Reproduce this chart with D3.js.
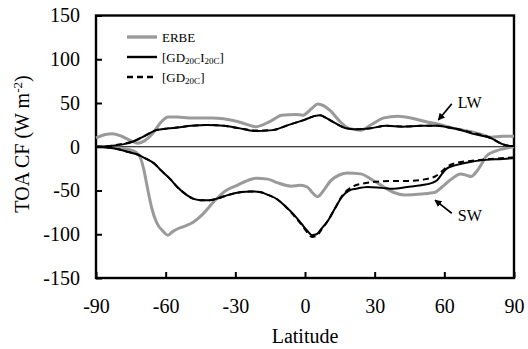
<!DOCTYPE html>
<html>
<head>
<meta charset="utf-8">
<script src="https://cdn.jsdelivr.net/npm/d3@7"></script>
<style>
  body { margin: 0; background: #fff; }
  svg { display: block; font-family: "Liberation Serif", "Times New Roman", serif; }
</style>
</head>
<body>
<svg id="chart" width="528" height="349"></svg>
<script>
// ---- data: [latitude, W m-2] ----
const erbeLW = [[-90,10],[-86,14],[-83,15],[-79,12],[-75,7],[-72,4],[-69,7],[-66,14],[-62,28],[-59,34],
  [-55,34],[-50,33],[-40,33],[-35,32],[-28,28],[-21,23],[-15,29],[-10,36],[-4,37],[-1,36],[3,44],[5.5,49],
  [8,47],[11,41],[15,29],[19,21],[24,19],[29,26],[34,33],[40,35],[47,32],[53,28],[57,26],[64,21],[68,19],
  [72,17],[76,14],[80,11],[85,12],[90,12]];
const gdCiLW = [[-90,0],[-84,1],[-78,3],[-74,6],[-70,11],[-64,19],[-59,21],[-55,22],[-49,24],[-42,25],
  [-35,24],[-28,21],[-21,18],[-14,19],[-7,25],[0,31],[4,35],[6.5,36],[9,33],[13,27],[18,21],[22,20],[28,21],
  [35,24],[42,23],[50,24],[57,24],[62,22],[66,20],[72,15],[80,10],[85,3],[88,1],[90,1]];
const gdLW = [[-90,0],[-84,1],[-78,3.5],[-74,6],[-70,11],[-64,19],[-59,21],[-55,22],[-49,24],[-42,25],
  [-35,24],[-28,21],[-21,18.5],[-14,19],[-7,25],[0,31],[4,35],[6.5,36],[9,33],[13,27],[18,21],[22,20],[28,21],
  [35,24],[42,23],[50,24],[57,24],[62,22],[66,20],[72,16],[80,10],[85,3],[88,1],[90,1]];

const erbeSW = [[-90,0],[-82,-1],[-76,-3],[-73,-6],[-71,-12],[-69.5,-25],[-68,-45],[-66,-70],[-64,-86],
  [-61,-97],[-59,-101],[-57,-97],[-55,-94],[-52,-91],[-48,-86],[-44,-77],[-39,-62],[-34,-50],[-30,-45],
  [-26,-40],[-21,-36],[-16,-37],[-12,-41],[-6,-45],[-2,-44],[1,-46],[3,-52],[5.5,-57],[8,-50],[11,-39],
  [15,-32],[18,-30],[24,-31],[29,-38],[34,-46],[38,-52],[43,-55],[50,-54],[56,-52],[59,-46],[63,-37],
  [67,-31],[70,-33],[71.5,-34],[74,-28],[76,-20],[78,-11],[82,-5],[86,-2],[90,0]];
const gdCiSW = [[-90,0],[-82,-2],[-76,-6],[-72,-9],[-69,-13],[-65,-19],[-62,-27],[-58,-37],[-55,-46],
  [-51,-55],[-48.5,-59],[-45,-61],[-41,-61],[-37.5,-59],[-33,-55],[-28,-52],[-23,-51],[-19,-52],[-16,-55],
  [-12,-60],[-8.5,-68],[-5,-77],[-1.5,-88],[1,-96],[3,-101],[5,-100],[7,-94],[10,-84],[13,-70],[16,-57],
  [19,-50],[22,-48],[27,-46],[33,-47],[38,-48],[44,-46],[50,-44],[55,-41],[57,-38],[59,-31],[61,-25],
  [65,-21],[70,-18],[78,-15],[85,-14],[90,-13]];
const gdSW = [[-90,0],[-82,-2],[-76,-6],[-72,-9],[-69,-13],[-65,-19],[-62,-27],[-58,-37],[-55,-46],
  [-51,-55],[-48.5,-59],[-45,-61],[-41,-61],[-37.5,-59],[-33,-55],[-28,-52],[-23,-51],[-19,-52],[-16,-55],
  [-12,-60],[-8.5,-68],[-5,-78],[-1.5,-89],[1,-98],[3,-103],[5,-102],[7,-95],[10,-84],[13,-70],[16,-56],
  [19,-48],[21,-45],[25,-42],[30,-40],[38,-39],[45,-39],[52,-37],[56,-34],[59,-28],[61,-23],[66,-18],
  [72,-16],[80,-14],[90,-12]];

const xTicks = [-90, -60, -30, 0, 30, 60, 90];
const yTicks = [150, 100, 50, 0, -50, -100, -150];

// ---- layout ----
const svg = d3.select("#chart");
const W = 528, H = 349;
const m = { top: 15.5, right: 14, bottom: 71, left: 96 };
const fw = W - m.left - m.right, fh = H - m.top - m.bottom;

const x = d3.scaleLinear().domain([-90, 90]).range([0, fw]);
const y = d3.scaleLinear().domain([-150, 150]).range([fh, 0]);

const fig = svg.append("g").attr("transform", `translate(${m.left},${m.top})`);

// zero line
fig.append("line")
  .attr("x1", 0).attr("x2", fw).attr("y1", y(0)).attr("y2", y(0))
  .attr("stroke", "#000").attr("stroke-width", 1);

// axes, ticks pointing inward; plain hyphen for negatives like the original
const fmt = d => String(d);
const yAxis = fig.append("g")
  .call(d3.axisLeft(y).tickValues(yTicks).tickSize(-6).tickPadding(16).tickFormat(fmt));
const xAxis = fig.append("g").attr("transform", `translate(0,${fh})`)
  .call(d3.axisBottom(x).tickValues(xTicks).tickSize(-6).tickPadding(27).tickFormat(fmt));

[yAxis, xAxis].forEach(a => {
  a.attr("font-family", null);
  a.select(".domain").remove();
  a.selectAll(".tick line").attr("stroke", "#000").attr("stroke-width", 2);
  a.selectAll(".tick text").attr("font-family", "Liberation Serif").attr("font-size", 20).attr("fill", "#000");
});
xAxis.selectAll(".tick text").attr("dy", "0.4em");

// frame
fig.append("rect").attr("width", fw).attr("height", fh)
  .attr("fill", "none").attr("stroke", "#000").attr("stroke-width", 2.4);

// lines
const line = d3.line().x(d => x(d[0])).y(d => y(d[1])).curve(d3.curveMonotoneX);
const styles = {
  erbe: { stroke: "#9a9a9a", width: 3, dash: null },
  gdci: { stroke: "#000", width: 2, dash: null },
  gd:   { stroke: "#000", width: 2, dash: "6,4" }
};
const series = [
  [erbeLW, styles.erbe], [erbeSW, styles.erbe],
  [gdLW, styles.gd], [gdSW, styles.gd],
  [gdCiLW, styles.gdci], [gdCiSW, styles.gdci]
];
series.forEach(([data, s]) => {
  fig.append("path").datum(data)
    .attr("fill", "none").attr("stroke", s.stroke).attr("stroke-width", s.width)
    .attr("stroke-dasharray", s.dash).attr("stroke-linejoin", "round")
    .attr("d", line);
});

// legend
const legend = fig.append("g").attr("transform", "translate(31,21.5)");
const legendItems = [
  { style: styles.erbe, parts: [["ERBE", false]] },
  { style: styles.gdci, parts: [["[GD", false], ["20C", true], ["I", false], ["20C", true], ["]", false]] },
  { style: styles.gd,   parts: [["[GD", false], ["20C", true], ["]", false]] }
];
legendItems.forEach((it, i) => {
  const g = legend.append("g").attr("transform", `translate(0,${i * 20})`);
  g.append("line").attr("x1", 0).attr("x2", 30).attr("y1", 0).attr("y2", 0)
    .attr("stroke", it.style.stroke).attr("stroke-width", it.style.width + 0.4)
    .attr("stroke-dasharray", it.style.dash);
  const t = g.append("text").attr("x", 35).attr("y", 4.5).attr("font-size", 13);
  let prevSub = false;
  it.parts.forEach(([txt, sub]) => {
    const ts = t.append("tspan").text(txt);
    if (sub) ts.attr("font-size", 9).attr("dy", prevSub ? 0 : 2.5);
    else ts.attr("dy", prevSub ? -2.5 : 0);
    prevSub = sub;
  });
});

// annotations with arrows
svg.append("defs").append("marker")
  .attr("id", "arr").attr("viewBox", "0 0 10 10").attr("refX", 9).attr("refY", 5)
  .attr("markerWidth", 4.5).attr("markerHeight", 4.5).attr("orient", "auto")
  .append("path").attr("d", "M0,0L10,5L0,10z").attr("fill", "#000");

const notes = [
  { label: "LW", from: [63.2, 49], to: [57.4, 30.5], text: [65.8, 51] },
  { label: "SW", from: [63.2, -76], to: [56.0, -61], text: [65.8, -79] }
];
notes.forEach(n => {
  fig.append("line")
    .attr("x1", x(n.from[0])).attr("y1", y(n.from[1]))
    .attr("x2", x(n.to[0])).attr("y2", y(n.to[1]))
    .attr("stroke", "#000").attr("stroke-width", 1.6).attr("marker-end", "url(#arr)");
  fig.append("text").attr("x", x(n.text[0])).attr("y", y(n.text[1]))
    .attr("dy", "0.35em").attr("font-size", 16).text(n.label);
});

// axis titles
svg.append("text").attr("x", m.left + fw / 2).attr("y", 336).attr("dy", "0.35em")
  .attr("text-anchor", "middle").attr("font-size", 20).text("Latitude");

const yt = svg.append("text").attr("text-anchor", "middle").attr("font-size", 20)
  .attr("transform", "translate(22,144) rotate(-90)").attr("dy", "0.35em");
yt.append("tspan").text("TOA CF (W m");
yt.append("tspan").text("-2").attr("font-size", 13).attr("dy", -7);
yt.append("tspan").text(")").attr("dy", 7);
</script>
</body>
</html>
